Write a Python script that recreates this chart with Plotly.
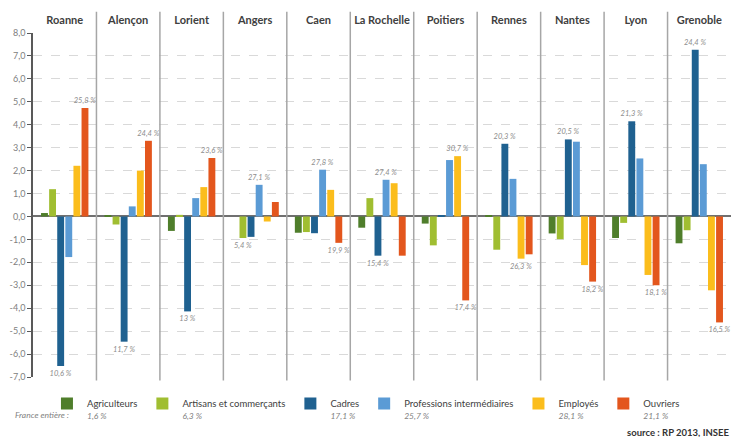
import plotly.graph_objects as go

cities = ["Roanne", "Alençon", "Lorient", "Angers", "Caen", "La Rochelle",
          "Poitiers", "Rennes", "Nantes", "Lyon", "Grenoble"]

categories = ["Agriculteurs", "Artisans et commerçants", "Cadres",
              "Professions intermédiaires", "Employés", "Ouvriers"]
france_values = ["1,6 %", "6,3 %", "17,1 %", "25,7 %", "28,1 %", "21,1 %"]

agriculteurs = [0.15, 0.03, -0.63, 0.0, -0.71, -0.49, -0.31, 0.05, -0.74, -0.94, -1.17]
artisans = [1.19, -0.35, 0.07, -0.94, -0.68, 0.80, -1.26, -1.45, -0.99, -0.28, -0.60]
cadres = [-6.52, -5.46, -4.14, -0.89, -0.73, -1.71, 0.05, 3.17, 3.36, 4.15, 7.27]
professions = [-1.77, 0.44, 0.80, 1.38, 2.04, 1.60, 2.46, 1.64, 3.26, 2.53, 2.28]
employes = [2.21, 2.00, 1.28, -0.22, 1.16, 1.45, 2.63, -1.84, -2.12, -2.55, -3.22]
ouvriers = [4.73, 3.30, 2.55, 0.63, -1.15, -1.71, -3.66, -1.65, -2.84, -3.00, -4.62]

labels_agriculteurs = [""] * 11
labels_artisans = ["", "", "", "5,4 %", "", "", "", "", "", "", ""]
labels_cadres = ["10,6 %", "11,7 %", "13 %", "", "", "15,4 %", "", "20,3 %", "20,5 %", "21,3 %", "24,4 %"]
labels_professions = ["", "", "", "27,1 %", "27,8 %", "27,4 %", "", "", "", "", ""]
labels_employes = ["", "", "", "", "", "", "30,7 %", "26,3 %", "", "", ""]
labels_ouvriers = ["25,8 %", "24,4 %", "23,6 %", "", "19,9 %", "", "17,4 %", "", "18,2 %", "18,1 %", "16,5 %"]

y_ticks = list(range(-7, 9))
y_ticktext = [f"{v},0" for v in y_ticks]

series = [agriculteurs, artisans, cadres, professions, employes, ouvriers]
labels = [labels_agriculteurs, labels_artisans, labels_cadres,
          labels_professions, labels_employes, labels_ouvriers]
colors = ["#4f7e2b", "#a0be31", "#1f6190", "#5b9bd5", "#fbbd1c", "#e3561d"]

FONT = "Lato"

fig = go.Figure()
for name, val, vals, labs, col in zip(categories, france_values, series, labels, colors):
    fig.add_trace(go.Bar(
        x=cities, y=vals, name=(f"{name}<br><span style='font-size:8.5px;color:#7f7f7f'>"
                                f"<i>{val}</i></span>"),
        marker=dict(color=col, line=dict(width=0)),
        text=labs, textposition="outside", textangle=0, constraintext="none",
        textfont=dict(family=FONT, size=7.5, color="#8c8c8c", style="italic"),
        cliponaxis=False,
    ))

shapes = []
for i in range(len(cities) - 1):
    shapes.append(dict(type="line", xref="x", yref="paper", x0=i + 0.5, x1=i + 0.5,
                       y0=-0.01, y1=1.062, line=dict(color="#a6a6a6", width=1.5)))

fig.update_layout(
    width=733, height=437,
    margin=dict(l=33, r=2, t=33, b=60),
    paper_bgcolor="white", plot_bgcolor="white",
    barmode="group", bargap=0.234, bargroupgap=0.15,
    font=dict(family=FONT, color="#404040"),
    shapes=shapes,
    showlegend=True,
    legend=dict(orientation="h", x=0.02, xanchor="left", y=-0.04, yanchor="top",
                font=dict(family=FONT, size=9.5, color="#404040"),
                itemwidth=30, valign="top", traceorder="normal",
                bgcolor="rgba(0,0,0,0)"),
    xaxis=dict(side="top", showgrid=False, showline=False, ticks="",
               tickfont=dict(family=FONT, size=11, color="#404040", weight="bold"),
               ticklabelstandoff=6, fixedrange=True),
    yaxis=dict(range=[-7, 8], tickvals=y_ticks, ticktext=y_ticktext,
               tickfont=dict(family=FONT, size=9, color="#808080"),
               showgrid=True, gridcolor="#d9d9d9", griddash="dash", gridwidth=1,
               zeroline=True, zerolinecolor="#707070", zerolinewidth=1.5,
               showline=True, linecolor="#595959", linewidth=1.5,
               ticks="outside", ticklen=4, tickcolor="#595959", fixedrange=True),
    annotations=[
        dict(text="<i>France entière :</i>", xref="paper", yref="paper",
             x=-0.028, y=-0.11, xanchor="left", yanchor="middle", showarrow=False,
             font=dict(family=FONT, size=8.5, color="#7f7f7f")),
        dict(text="<b>source : RP 2013, INSEE</b>", xref="paper", yref="paper",
             x=1.0, y=-0.16, xanchor="right", yanchor="middle", showarrow=False,
             font=dict(family=FONT, size=9.5, color="#333333")),
    ],
)

fig.write_html("out.html", post_script="document.body.style.margin='0';",
               config={"displayModeBar": False})
